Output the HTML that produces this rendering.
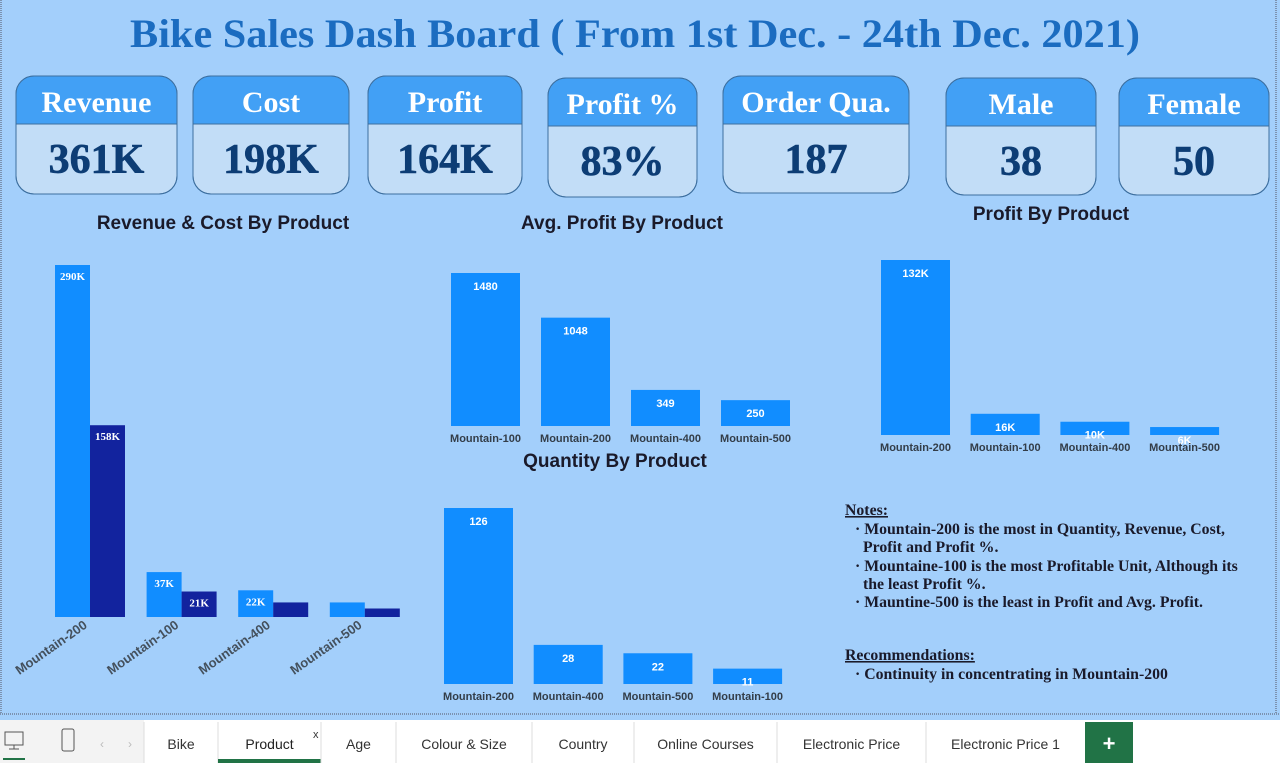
<!DOCTYPE html>
<html><head><meta charset="utf-8"><style>
html,body{margin:0;padding:0;width:1280px;height:763px;overflow:hidden;background:#a3cffb}
svg{display:block}
.serif{font-family:"Liberation Serif",serif;font-weight:bold}
.sans{font-family:"Liberation Sans","DejaVu Sans",sans-serif}
</style></head><body>
<svg id="dash" width="1280" height="763" viewBox="0 0 1280 763" xmlns="http://www.w3.org/2000/svg">
<rect x="0" y="0" width="1280" height="720" fill="#a3cffb"/>
<line x1="1" y1="0" x2="1" y2="714" stroke="#556" stroke-dasharray="1,1"/>
<line x1="1276" y1="0" x2="1276" y2="714" stroke="#556" stroke-dasharray="1,1"/>
<line x1="0" y1="714" x2="1280" y2="714" stroke="#556" stroke-dasharray="1,1"/>
<text x="635" y="47" text-anchor="middle" class="serif" font-size="40" fill="#1b6cc0" textLength="1010" lengthAdjust="spacingAndGlyphs">Bike Sales Dash Board ( From 1st Dec. - 24th Dec. 2021)</text>
<g id="cards"></g>
<g id="charts"></g>
<g class="serif" font-size="15.8" fill="#1a1a2a">
<text x="845" y="515" text-decoration="underline">Notes:</text>
<text x="855" y="534">· Mountain-200 is the most in Quantity, Revenue, Cost,</text>
<text x="863" y="552">Profit and Profit %.</text>
<text x="855" y="571">· Mountaine-100 is the most Profitable Unit, Although its</text>
<text x="863" y="589">the least Profit %.</text>
<text x="855" y="607">·  Mauntine-500 is the least in Profit and Avg. Profit.</text>
<text x="845" y="660" text-decoration="underline">Recommendations:</text>
<text x="855" y="679">· Continuity in concentrating in Mountain-200</text>
</g>
<g>
<rect x="0" y="720" width="1280" height="43" fill="#f3f3f3"/>
<rect x="144" y="720" width="1136" height="43" fill="#ffffff"/>
<g stroke="#555" fill="none"><rect x="5" y="732" width="18" height="13"/><line x1="14" y1="745" x2="14" y2="749"/><line x1="9" y1="749" x2="19" y2="749"/></g>
<rect x="3" y="758" width="22" height="2" fill="#217346"/>
<rect x="62" y="729" width="12" height="22" rx="2" stroke="#555" fill="none"/>
<text x="100" y="748" class="sans" font-size="12" fill="#bbb">‹</text>
<text x="128" y="748" class="sans" font-size="12" fill="#bbb">›</text>
<g id="tabs"></g>
<rect x="1085" y="722" width="48" height="41" fill="#217346"/>
<text x="1109" y="751" text-anchor="middle" class="sans" font-weight="bold" font-size="22" fill="#fff">+</text>
</g>
</svg>
<script>
const NS="http://www.w3.org/2000/svg";
function mk(parent,tag,attrs,text){const e=document.createElementNS(NS,tag);for(const k in attrs)e.setAttribute(k,attrs[k]);if(text!==undefined)e.textContent=text;parent.appendChild(e);return e;}

// KPI cards
const cardTitles=["Revenue","Cost","Profit","Profit %","Order Qua.","Male","Female"];
const cardValues=["361K","198K","164K","83%","187","38","50"];
const cardBoxes=[[16,76,161,118],[193,76,156,118],[368,76,154,118],[548,78,149,119],[723,76,186,117],[946,78,150,117],[1119,78,150,117]];
const cards=document.getElementById('cards');
cardTitles.forEach((t,i)=>{
  const [x,y,w,h]=cardBoxes[i];
  const g=mk(cards,'g',{});
  
  
  const body=mk(g,'rect',{x:x,y:y,width:w,height:h,rx:18,fill:'#c2ddf7',stroke:'#3d6f9f','stroke-width':1});
  
  
  const cp='card-clip-'+i;
  const cl=mk(g,'clipPath',{id:cp});mk(cl,'rect',{x:x,y:y,width:w,height:h,rx:18});
  const hd=mk(g,'rect',{x:x,y:y,width:w,height:48,fill:'#42a0f5','clip-path':'url(#'+cp+')'});
  
  
  mk(g,'line',{x1:x,x2:x+w,y1:y+48,y2:y+48,stroke:'#3d6f9f'});
  mk(g,'rect',{x:x,y:y,width:w,height:h,rx:18,fill:'none',stroke:'#3d6f9f'});
  const tt=mk(g,'text',{x:x+w/2,y:y+36,'text-anchor':'middle',class:'serif','font-size':30,fill:'#fff'},t);
  
  
  const tv=mk(g,'text',{x:x+w/2,y:y+97,'text-anchor':'middle',class:'serif','font-size':42,fill:'#0d3d75',stroke:'#0d3d75','stroke-width':0.6},cardValues[i]);
  
  
});

// Chart data
const rcCategories=["Mountain-200","Mountain-100","Mountain-400","Mountain-500"];
const revenueValues=[290,37,22,12];
const costValues=[158,21,12,7];
const revenueLabels=["290K","37K","22K",""];
const costLabels=["158K","21K","",""];
const avgCategories=["Mountain-100","Mountain-200","Mountain-400","Mountain-500"];
const avgProfitValues=[1480,1048,349,250];
const profitCategories=["Mountain-200","Mountain-100","Mountain-400","Mountain-500"];
const profitValues=[132,16,10,6];
const profitLabels=["132K","16K","10K","6K"];
const qtyCategories=["Mountain-200","Mountain-400","Mountain-500","Mountain-100"];
const qtyValues=[126,28,22,11];

const charts=document.getElementById('charts');
function title(x,y,t,name){const e=mk(charts,'text',{x:x,y:y,'text-anchor':'middle',class:'sans','font-weight':'bold','font-size':19,fill:'#1a1a2a'},t);
  
  }
title(223,229,"Revenue & Cost By Product","revenue-cost-chart-title");
title(622,229,"Avg. Profit By Product","avg-profit-chart-title");
title(1051,220,"Profit By Product","profit-chart-title");
title(615,467,"Quantity By Product","quantity-chart-title");

// Revenue & cost grouped chart
(function(){
  const g=mk(charts,'g',{});
  
  
  const base=617, maxV=290, plotH=352;
  const yS=v=>base-v/maxV*plotH;
  const x0=55, step=91.6, bw=35;
  rcCategories.forEach((c,i)=>{
    const x=x0+i*step;
    const r=mk(g,'rect',{x:x,y:yS(revenueValues[i]),width:bw,height:base-yS(revenueValues[i]),fill:'#118dff'});
    
    
    const c2=mk(g,'rect',{x:x+bw,y:yS(costValues[i]),width:bw,height:base-yS(costValues[i]),fill:'#12239e'});
    
    
    if(revenueLabels[i]){const t=mk(g,'text',{x:x+bw/2,y:yS(revenueValues[i])+15,'text-anchor':'middle',class:'serif','font-size':11,fill:'#fff'},revenueLabels[i]);
      
      }
    if(costLabels[i]){const t=mk(g,'text',{x:x+bw*1.5,y:yS(costValues[i])+15,'text-anchor':'middle',class:'serif','font-size':11,fill:'#fff'},costLabels[i]);
      
      }
    const lx=x+bw-2, ly=base+10;
    const t=mk(g,'text',{x:lx,y:ly,'text-anchor':'end',class:'sans','font-weight':'bold','font-size':13,fill:'#44505c',transform:'rotate(-35 '+lx+' '+ly+')'},c);
    
    
  });
})();

function simpleChart(name,cats,vals,labels,base,maxV,plotH,x0,step,bw){
  const g=mk(charts,'g',{});
  
  
  const yS=v=>base-v/maxV*plotH;
  cats.forEach((c,i)=>{
    const x=x0+i*step;
    const r=mk(g,'rect',{x:x,y:yS(vals[i]),width:bw,height:base-yS(vals[i]),fill:'#118dff'});
    
    
    const v=mk(g,'text',{x:x+bw/2,y:yS(vals[i])+17,'text-anchor':'middle',class:'sans','font-weight':'bold','font-size':11,fill:'#fff'},labels[i]);
    
    
    const t=mk(g,'text',{x:x+bw/2,y:base+16,'text-anchor':'middle',class:'sans','font-weight':'bold','font-size':11,fill:'#333d48'},c);
    
    
  });
}
simpleChart('avg-profit-chart',avgCategories,avgProfitValues,avgProfitValues.map(String),426,1480,153,451,90,69);
simpleChart('profit-chart',profitCategories,profitValues,profitLabels,435,132,175,881,89.7,69);
simpleChart('quantity-chart',qtyCategories,qtyValues,qtyValues.map(String),684,126,176,444,89.7,69);

// Tabs
const tabNames=["Bike","Product","Age","Colour & Size","Country","Online Courses","Electronic Price","Electronic Price 1"];
const tabEdges=[144,218,321,396,532,634,777,926,1085];
const tabs=document.getElementById('tabs');
tabNames.forEach((n,i)=>{
  const x=tabEdges[i], w=tabEdges[i+1]-x;
  const g=mk(tabs,'g',{});
  
  
  mk(g,'line',{x1:x,x2:x,y1:722,y2:763,stroke:'#ddd'});
  mk(g,'text',{x:x+w/2,y:749,'text-anchor':'middle',class:'sans','font-size':14,fill:i==1?'#222':'#333'},n);
  if(i==1){mk(g,'rect',{x:x,y:759,width:w,height:4,fill:'#217346'});
    mk(g,'text',{x:x+w-8,y:738,class:'sans','font-size':11,fill:'#333'},'x');}
});
</script>
</body></html>
